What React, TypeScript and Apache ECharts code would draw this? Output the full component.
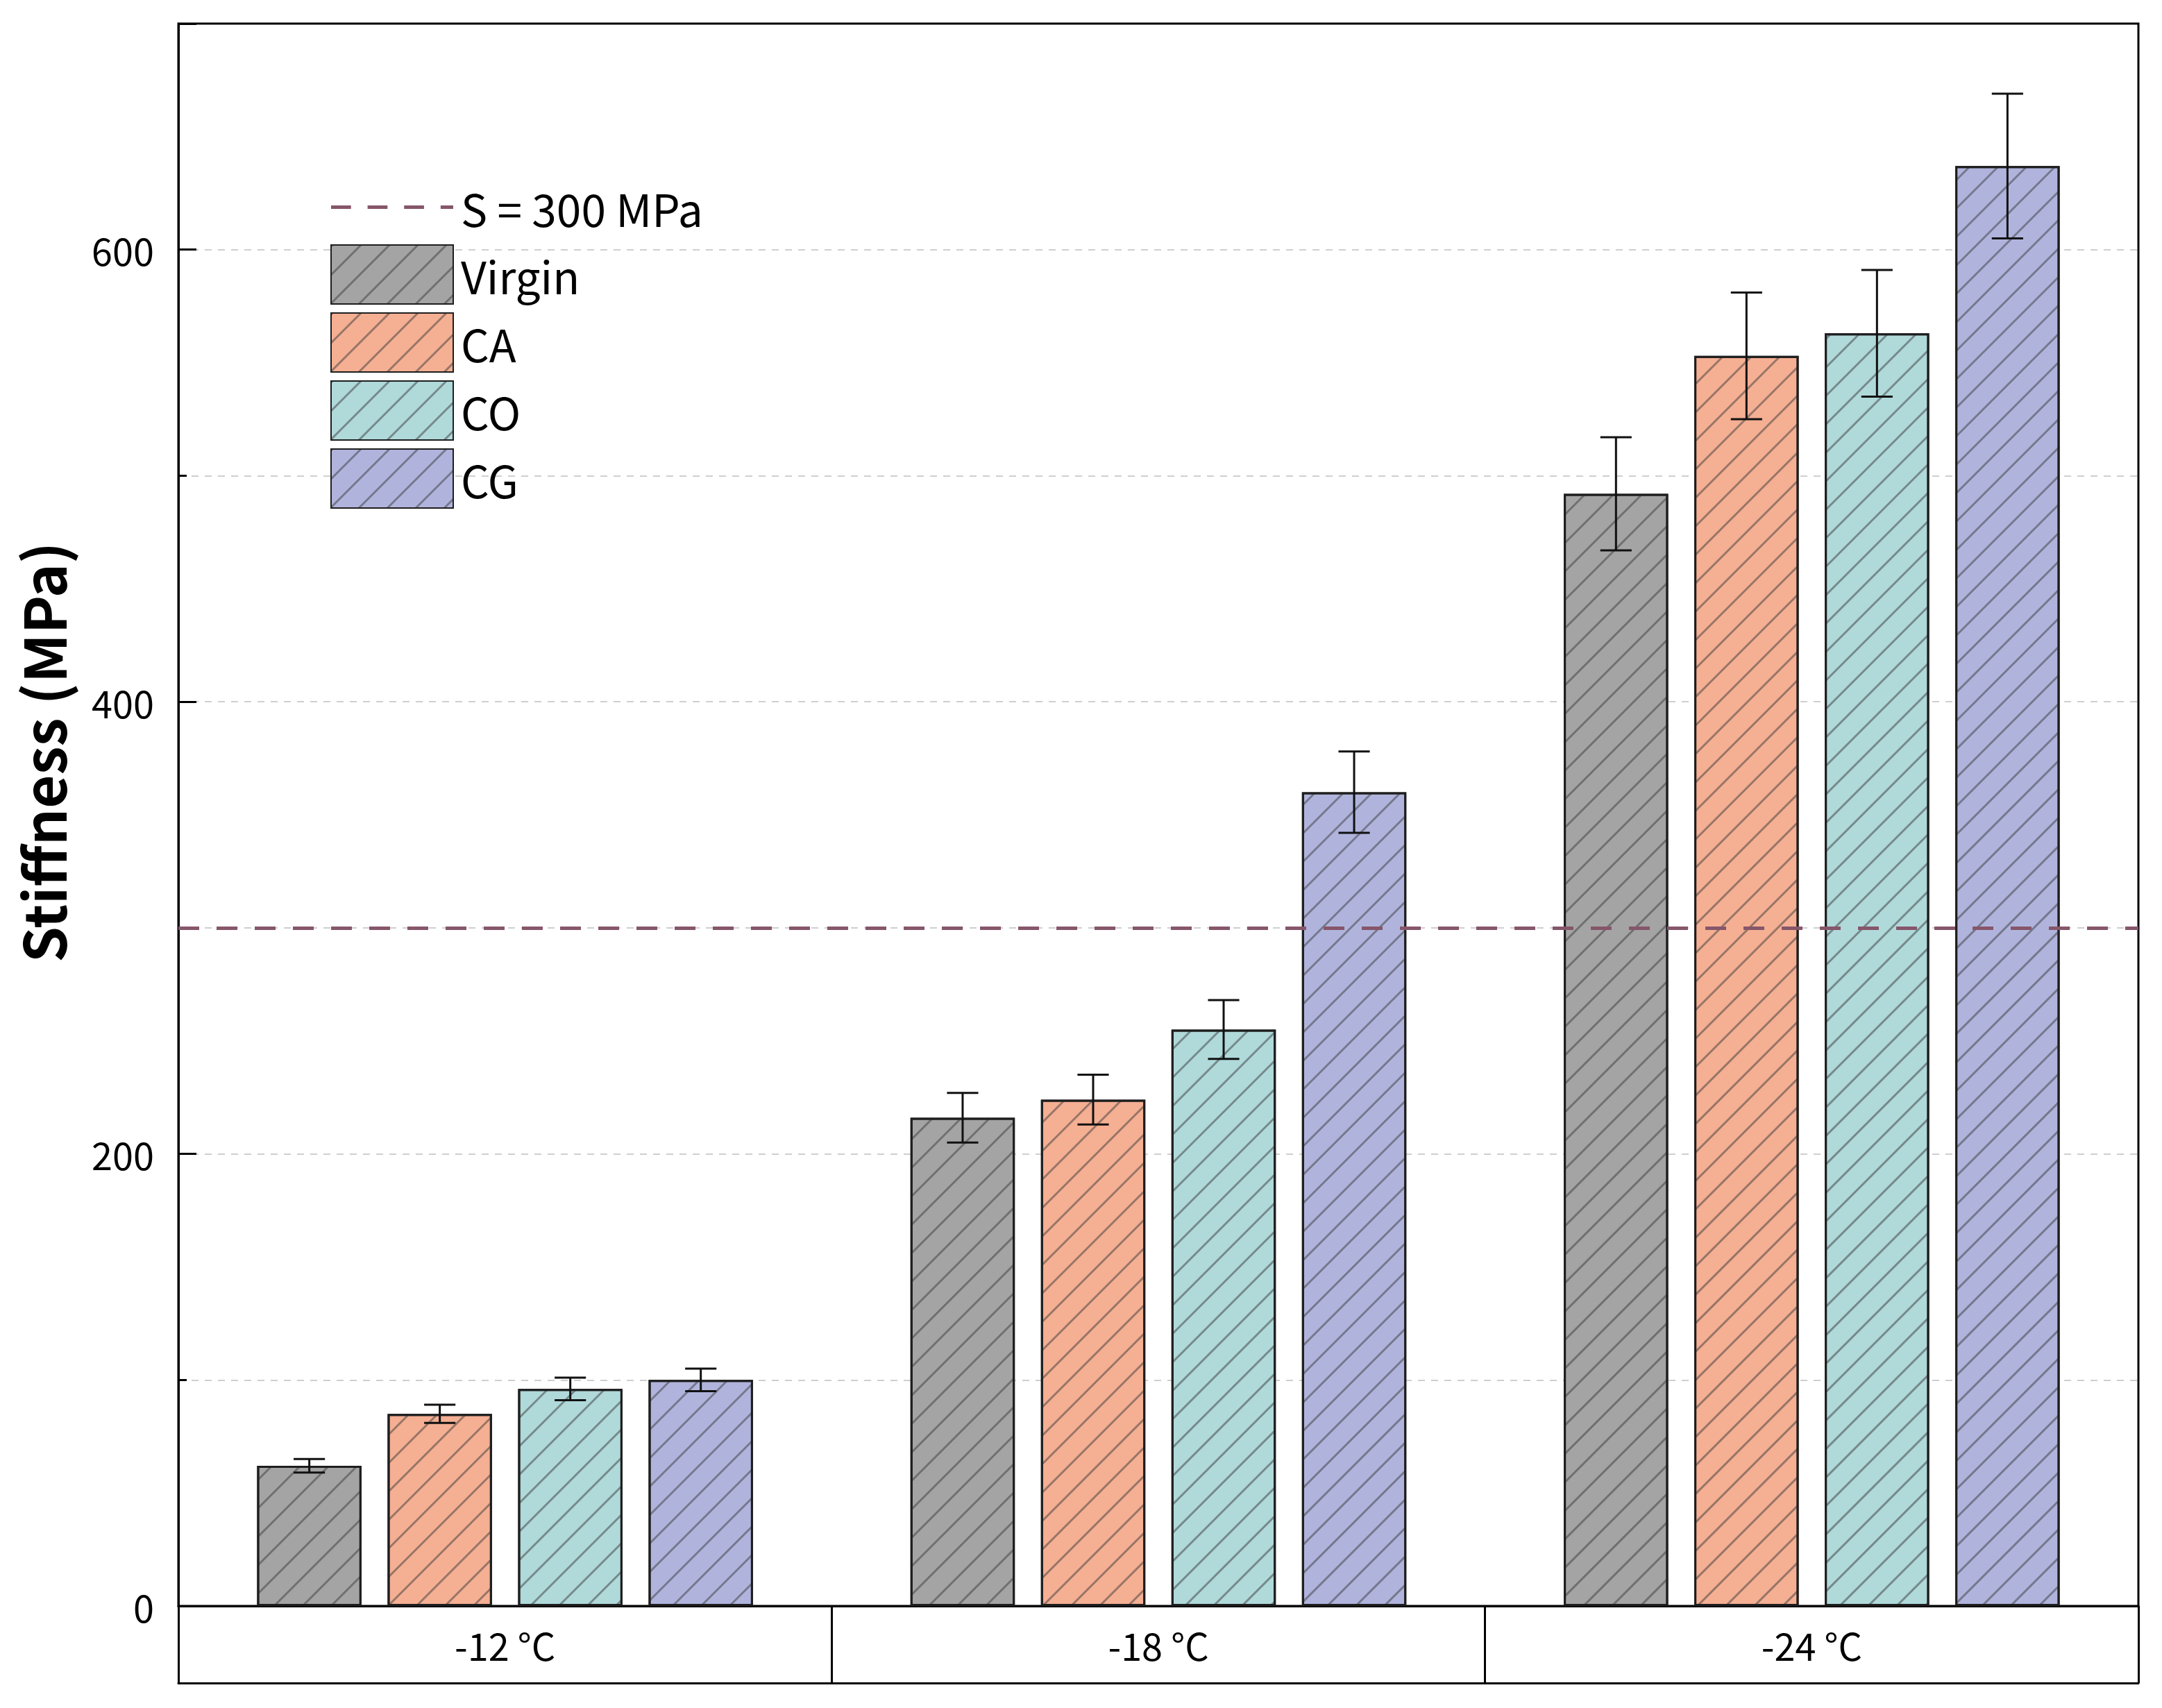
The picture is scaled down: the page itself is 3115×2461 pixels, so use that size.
import React, { useEffect, useRef } from "react";
import * as echarts from "echarts";

const categories = ["-12 °C", "-18 °C", "-24 °C"];
const seriesNames = ["Virgin", "CA", "CO", "CG"];
const virgin = [62, 216, 492];
const virginErr = [3, 11, 25];
const ca = [85, 224, 553];
const caErr = [4, 11, 28];
const co = [96, 255, 563];
const coErr = [5, 13, 28];
const cg = [100, 360, 637];
const cgErr = [5, 18, 32];
const refValue = 300;
const refName = "S = 300 MPa";
const yTicks = [0, 200, 400, 600];

const colors = ["#a4a4a4", "#f5af93", "#b0d9da", "#b0b4dd"];
const FONT = "Noto Sans CJK SC";
const CAT_GAP = 0.241;
const BAR_GAP = 0.25;
const DASH_ICON = "path://M0,0h30v5h-30zM55,0h30v5h-30zM110,0h30v5h-30zM165,0h19v5h-19z";

export default function App() {
  const ref = useRef<HTMLDivElement>(null);
  useEffect(() => {
    if (!ref.current) return;
    const chart = echarts.init(ref.current, null, { renderer: "svg" });
    const values = [virgin, ca, co, cg];
    const errs = [virginErr, caErr, coErr, cgErr];
    const N = values.length;
    const decal = {
      symbol: "rect",
      symbolSize: 1,
      dashArrayX: [1, 0],
      dashArrayY: [2.5, 25.5],
      rotation: -Math.PI / 4,
      color: "rgba(60,60,60,0.5)",
    };
    const barSeries = values.map((vals, i) => ({
      name: seriesNames[i],
      type: "bar",
      xAxisIndex: 0,
      data: vals,
      barCategoryGap: (CAT_GAP * 100).toFixed(1) + "%",
      barGap: BAR_GAP * 100 + "%",
      itemStyle: {
        color: colors[i],
        borderColor: "#1e1e1e",
        borderWidth: 3,
        decal,
      },
      z: 2,
    }));
    const errSeries = values.map((vals, s) => ({
      name: seriesNames[s] + " error",
      type: "custom",
      xAxisIndex: 0,
      z: 5,
      silent: true,
      data: vals.map((v, c) => [c, v - errs[s][c], v + errs[s][c]]),
      renderItem: (params: any, api: any) => {
        const ci = api.value(0);
        const lo = api.value(1);
        const hi = api.value(2);
        const band = api.size([1, 0])[0];
        const barW = (band * (1 - CAT_GAP)) / (N + (N - 1) * BAR_GAP);
        const offset = (s - (N - 1) / 2) * barW * (1 + BAR_GAP);
        const pLo = api.coord([ci, lo]);
        const pHi = api.coord([ci, hi]);
        const x = pLo[0] + offset;
        const half = barW * 0.15;
        const st = { stroke: "#111", lineWidth: 3 };
        return {
          type: "group",
          children: [
            { type: "line", shape: { x1: x, y1: pLo[1], x2: x, y2: pHi[1] }, style: st },
            { type: "line", shape: { x1: x - half, y1: pLo[1], x2: x + half, y2: pLo[1] }, style: st },
            { type: "line", shape: { x1: x - half, y1: pHi[1], x2: x + half, y2: pHi[1] }, style: st },
          ],
        };
      },
    }));
    const refColor = "#86566a";
    const gridLine = { color: "#cfcfcf", width: 2, type: [10, 9] };
    chart.setOption({
      animation: false,
      backgroundColor: "#ffffff",
      textStyle: { fontFamily: FONT },
      grid: {
        left: 257,
        top: 34,
        right: 34,
        bottom: 147,
        show: true,
        borderColor: "#000",
        borderWidth: 3,
        containLabel: false,
      },
      legend: {
        orient: "vertical",
        left: 471,
        top: 251,
        itemWidth: 176,
        itemHeight: 85,
        itemGap: 11,
        icon: "rect",
        data: [{ name: refName, icon: DASH_ICON }, ...seriesNames],
        textStyle: { fontSize: 64, lineHeight: 85, color: "#000", fontFamily: FONT, padding: [0, 0, 0, 6] },
      },
      xAxis: [
        {
          type: "category",
          data: categories,
          position: "bottom",
          axisLine: { show: true, lineStyle: { color: "#000", width: 3 } },
          axisTick: { show: true, alignWithLabel: false, inside: false, length: 111, lineStyle: { color: "#000", width: 3 } },
          axisLabel: { fontSize: 54, color: "#000", margin: 28, fontFamily: FONT },
          splitLine: { show: false },
        },
        {
          type: "category",
          data: categories,
          position: "bottom",
          offset: 111,
          axisLine: { show: true, lineStyle: { color: "#000", width: 3 } },
          axisTick: { show: false },
          axisLabel: { show: false },
        },
      ],
      yAxis: {
        type: "value",
        min: 0,
        max: 700,
        interval: 200,
        name: "Stiffness (MPa)",
        nameLocation: "middle",
        nameRotate: 90,
        nameGap: 156,
        nameTextStyle: { fontSize: 83, fontWeight: "bold", color: "#000", fontFamily: FONT, padding: [0, 0, 0, 180] },
        axisLine: { show: true, lineStyle: { color: "#000", width: 3 } },
        axisTick: { show: true, inside: true, length: 26, lineStyle: { color: "#000", width: 3 } },
        minorTick: { show: true, splitNumber: 2, length: 12, lineStyle: { color: "#000", width: 3 } },
        axisLabel: {
          fontSize: 54,
          color: "#000",
          margin: 35,
          fontFamily: FONT,
          padding: [0, 0, 16, 0],
          formatter: (v: number) => (yTicks.indexOf(v) >= 0 ? String(v) : ""),
        },
        splitLine: { show: true, showMinLine: false, showMaxLine: false, lineStyle: gridLine },
        minorSplitLine: { show: true, lineStyle: gridLine },
      },
      series: [
        {
          name: refName,
          type: "line",
          xAxisIndex: 0,
          data: [],
          symbol: "none",
          lineStyle: { color: refColor, width: 5, type: [30, 25] },
          itemStyle: { color: refColor },
          markLine: {
            silent: true,
            symbol: "none",
            label: { show: false },
            lineStyle: { color: refColor, width: 5, type: [30, 25] },
            data: [{ yAxis: refValue }],
          },
          z: 4,
        },
        ...barSeries,
        ...errSeries,
      ],
    });
    return () => chart.dispose();
  }, []);
  return (
    <div
      ref={ref}
      style={{ position: "fixed", left: 0, top: 0, width: 3115, height: 2461, background: "#fff" }}
    />
  );
}
